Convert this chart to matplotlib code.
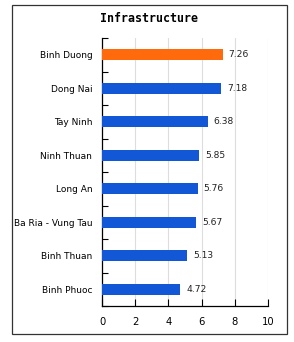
#!/usr/bin/env python3

import matplotlib

matplotlib.use("Agg")
import matplotlib.pyplot as plt
from matplotlib.patches import Rectangle

provinces = ["Binh Duong", "Dong Nai", "Tay Ninh", "Ninh Thuan",
             "Long An", "Ba Ria - Vung Tau", "Binh Thuan", "Binh Phuoc"]
scores = [7.26, 7.18, 6.38, 5.85, 5.76, 5.67, 5.13, 4.72]
highlight = "Binh Duong"
x_ticks = [0, 2, 4, 6, 8, 10]


def main() -> int:
    fig = plt.figure(figsize=(2.94, 3.42), dpi=100)
    fig.patches.append(Rectangle((12 / 294, 1 - 334 / 342), 275 / 294, 329 / 342,
                                 transform=fig.transFigure, fill=False,
                                 edgecolor="#333333", linewidth=0.9))
    fig.text(0.508, 1 - 18 / 342, "Infrastructure", ha="center", va="center",
             family="DejaVu Sans Mono", fontweight="bold", fontsize=8.4)

    ax = fig.add_axes([102 / 294, 1 - 306 / 342, 166 / 294, 268 / 342])
    n = len(provinces)
    ypos = list(range(n))[::-1]
    colors = ["#ff6a0c" if p == highlight else "#1258d6" for p in provinces]
    ax.barh(ypos, scores, height=0.33, color=colors, zorder=3)
    for y, v in zip(ypos, scores):
        ax.text(v + 0.35, y, f"{v:.2f}", va="center", ha="left", fontsize=6.6, color="#222222")

    ax.set_xlim(0, 10)
    ax.set_ylim(-0.5, n - 0.5)
    ax.set_xticks(x_ticks)
    ax.set_xticklabels([str(t) for t in x_ticks], fontsize=7.2)
    ax.xaxis.grid(True, color="#dddddd", linewidth=0.8, zorder=0)
    ax.tick_params(axis="x", direction="in", length=5, width=0.8, pad=8)

    ax.set_yticks([i - 0.5 for i in range(n + 1)])
    ax.set_yticklabels([])
    ax.set_yticks(ypos, minor=True)
    ax.set_yticklabels(provinces, minor=True, fontsize=6.5)
    ax.tick_params(axis="y", which="major", direction="in", length=4, width=0.8)
    ax.tick_params(axis="y", which="minor", length=0, pad=7)

    for s in ("top", "right"):
        ax.spines[s].set_visible(False)
    for s in ("left", "bottom"):
        ax.spines[s].set_linewidth(0.9)

    fig.savefig("out.png", dpi=100)
    plt.close(fig)
    return 0


if __name__ == "__main__":
    raise SystemExit(main())
